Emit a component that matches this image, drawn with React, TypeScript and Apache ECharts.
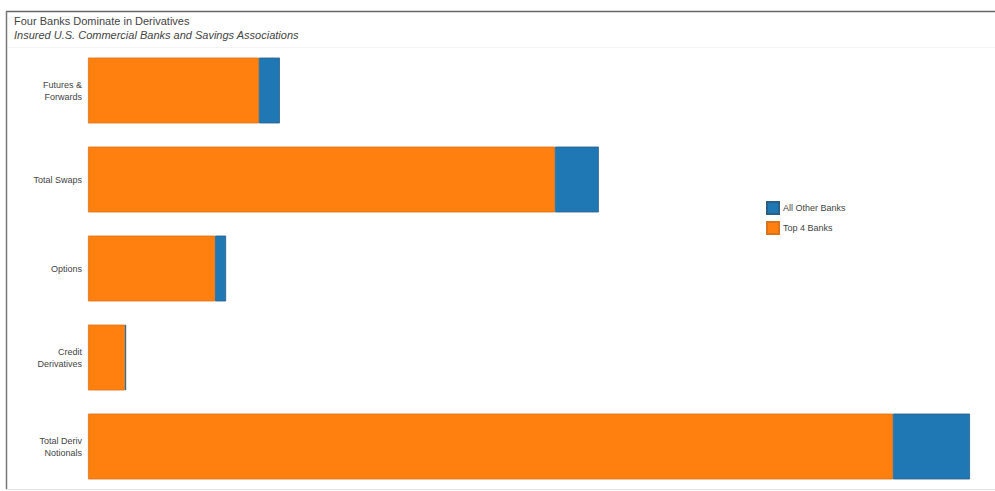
import React, { useEffect, useRef } from "react";
import * as echarts from "echarts";

const categories = [
  "Futures &\nForwards",
  "Total Swaps",
  "Options",
  "Credit\nDerivatives",
  "Total Deriv\nNotionals",
];
const top4Banks = [44.8, 122.4, 33.3, 9.7, 211.0];
const allOtherBanks = [5.5, 11.5, 2.9, 0.3, 20.2];

export default function App() {
  const ref = useRef<HTMLDivElement>(null);
  useEffect(() => {
    if (!ref.current) return;
    const chart = echarts.init(ref.current, undefined, { renderer: "svg" });
    chart.setOption({
      animation: false,
      backgroundColor: "#ffffff",
      textStyle: { fontFamily: "Liberation Sans, Arial, sans-serif" },
      title: {
        text: "Four Banks Dominate in Derivatives",
        subtext: "Insured U.S. Commercial Banks and Savings Associations",
        left: 9,
        top: 10,
        itemGap: 3,
        textStyle: { fontSize: 11, fontWeight: "normal", color: "#444" },
        subtextStyle: { fontSize: 11, fontStyle: "italic", color: "#444" },
      },
      legend: {
        orient: "vertical",
        left: 761,
        top: 196,
        itemWidth: 12,
        itemHeight: 12,
        itemGap: 6,
        icon: "rect",
        data: ["All Other Banks", "Top 4 Banks"],
        textStyle: { fontSize: 9, color: "#444", padding: [0, 0, 0, -1] },
      },
      grid: { left: 88, top: 46, width: 896.5, height: 445 },
      xAxis: {
        type: "value",
        min: 0,
        max: 235,
        show: false,
        splitLine: { show: false },
      },
      yAxis: {
        type: "category",
        data: categories,
        inverse: true,
        axisLine: { show: false },
        axisTick: { show: false },
        axisLabel: {
          fontSize: 9,
          color: "#444",
          align: "right",
          margin: 6,
          lineHeight: 12,
        },
      },
      series: [
        {
          name: "Top 4 Banks",
          type: "bar",
          stack: "total",
          data: top4Banks,
          barCategoryGap: "26%",
          itemStyle: { color: "#ff800e", borderColor: "#d9731c", borderWidth: 0.8 },
        },
        {
          name: "All Other Banks",
          type: "bar",
          stack: "total",
          data: allOtherBanks,
          barCategoryGap: "26%",
          itemStyle: { color: "#1f77b4", borderColor: "#2b5f85", borderWidth: 0.8 },
        },
      ],
      graphic: [
        {
          type: "line",
          shape: { x1: 6, y1: 11.5, x2: 995, y2: 11.5 },
          style: { stroke: "#666", lineWidth: 1.5 },
          z: 10,
        },
        {
          type: "line",
          shape: { x1: 6.5, y1: 11, x2: 6.5, y2: 489 },
          style: { stroke: "#777", lineWidth: 1.5 },
          z: 10,
        },
        {
          type: "line",
          shape: { x1: 6, y1: 489.5, x2: 995, y2: 489.5 },
          style: { stroke: "#e2e2e2", lineWidth: 1 },
          z: 10,
        },
        {
          type: "line",
          shape: { x1: 8, y1: 47.5, x2: 995, y2: 47.5 },
          style: { stroke: "#f3f3f3", lineWidth: 1 },
          z: 0,
        },
      ],
    });
    return () => chart.dispose();
  }, []);
  return <div ref={ref} style={{ width: 995, height: 491, position: "absolute", left: 0, top: 0 }} />;
}
